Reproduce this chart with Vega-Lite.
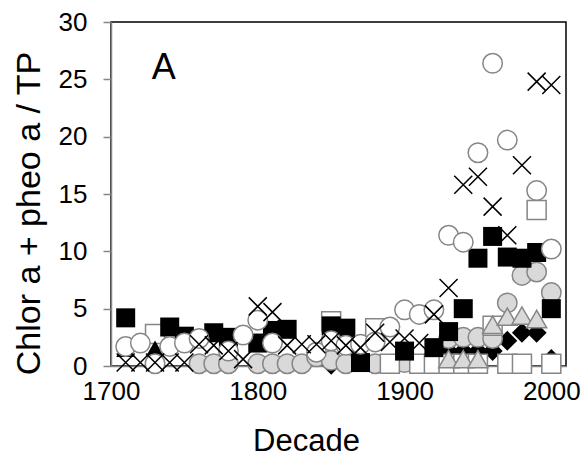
{
  "$schema": "https://vega.github.io/schema/vega-lite/v6.json",
  "width": 455,
  "height": 344,
  "autosize": {"type": "none"},
  "padding": {"left": 111, "top": 22, "right": 21, "bottom": 98},
  "background": "white",
  "config": {
    "font": "Liberation Sans",
    "view": {"stroke": "black", "strokeWidth": 1.5},
    "axis": {"grid": false, "labelColor": "black", "titleColor": "black", "titleFontWeight": "normal", "domainColor": "#868686", "domainWidth": 1.5, "tickColor": "#868686", "tickWidth": 1.5, "labelFont": "Liberation Sans", "titleFont": "Liberation Sans"}
  },
  "datasets": {
    "blackSquare": [
      {"decade": 1710, "value": 4.2}, {"decade": 1740, "value": 3.4}, {"decade": 1750, "value": 2.6},
      {"decade": 1770, "value": 2.9}, {"decade": 1780, "value": 2.5}, {"decade": 1800, "value": 2.0},
      {"decade": 1810, "value": 3.1}, {"decade": 1820, "value": 3.2}, {"decade": 1850, "value": 3.5},
      {"decade": 1860, "value": 3.3}, {"decade": 1870, "value": 0.3}, {"decade": 1900, "value": 1.3},
      {"decade": 1920, "value": 1.6}, {"decade": 1930, "value": 3.0}, {"decade": 1940, "value": 5.0},
      {"decade": 1950, "value": 9.4}, {"decade": 1960, "value": 11.3}, {"decade": 1970, "value": 9.5},
      {"decade": 1980, "value": 9.4}, {"decade": 1990, "value": 9.9}, {"decade": 2000, "value": 5.0}
    ],
    "openCircle": [
      {"decade": 1710, "value": 1.7}, {"decade": 1720, "value": 2.0}, {"decade": 1730, "value": 0.2},
      {"decade": 1740, "value": 1.7}, {"decade": 1750, "value": 2.0}, {"decade": 1760, "value": 2.4},
      {"decade": 1780, "value": 1.3}, {"decade": 1790, "value": 2.7}, {"decade": 1800, "value": 4.0},
      {"decade": 1810, "value": 2.0}, {"decade": 1840, "value": 1.2}, {"decade": 1850, "value": 2.2},
      {"decade": 1860, "value": 1.8}, {"decade": 1870, "value": 1.9}, {"decade": 1880, "value": 2.1},
      {"decade": 1890, "value": 3.4}, {"decade": 1900, "value": 4.9}, {"decade": 1910, "value": 4.5},
      {"decade": 1920, "value": 4.9}, {"decade": 1930, "value": 11.4}, {"decade": 1940, "value": 10.8},
      {"decade": 1950, "value": 18.6}, {"decade": 1960, "value": 26.4}, {"decade": 1970, "value": 19.7},
      {"decade": 1990, "value": 15.3}, {"decade": 2000, "value": 10.2}
    ],
    "xMark": [
      {"decade": 1710, "value": 0.3}, {"decade": 1720, "value": 0.3}, {"decade": 1730, "value": 0.3},
      {"decade": 1740, "value": 0.3}, {"decade": 1750, "value": 0.3}, {"decade": 1760, "value": 1.9},
      {"decade": 1770, "value": 1.8}, {"decade": 1780, "value": 1.3}, {"decade": 1790, "value": 0.6},
      {"decade": 1800, "value": 5.2}, {"decade": 1810, "value": 4.7}, {"decade": 1820, "value": 1.8},
      {"decade": 1830, "value": 1.9}, {"decade": 1840, "value": 1.9}, {"decade": 1850, "value": 2.2},
      {"decade": 1860, "value": 1.8}, {"decade": 1870, "value": 1.6}, {"decade": 1880, "value": 2.9},
      {"decade": 1890, "value": 2.1}, {"decade": 1900, "value": 2.4}, {"decade": 1910, "value": 2.0},
      {"decade": 1920, "value": 4.5}, {"decade": 1930, "value": 6.8}, {"decade": 1940, "value": 15.8},
      {"decade": 1950, "value": 16.5}, {"decade": 1960, "value": 13.9}, {"decade": 1970, "value": 11.4},
      {"decade": 1980, "value": 17.5}, {"decade": 1990, "value": 24.8}, {"decade": 2000, "value": 24.5}
    ],
    "greyCircle": [
      {"decade": 1760, "value": 0.2}, {"decade": 1770, "value": 0.2}, {"decade": 1780, "value": 0.2},
      {"decade": 1800, "value": 0.2}, {"decade": 1810, "value": 0.2}, {"decade": 1820, "value": 0.2},
      {"decade": 1830, "value": 0.2}, {"decade": 1840, "value": 0.8}, {"decade": 1850, "value": 0.5},
      {"decade": 1860, "value": 0.2}, {"decade": 1880, "value": 0.2}, {"decade": 1900, "value": 0.3},
      {"decade": 1920, "value": 0.3}, {"decade": 1930, "value": 2.4}, {"decade": 1940, "value": 2.5},
      {"decade": 1950, "value": 2.5}, {"decade": 1960, "value": 2.4}, {"decade": 1970, "value": 5.5},
      {"decade": 1980, "value": 7.9}, {"decade": 1990, "value": 8.2}, {"decade": 2000, "value": 6.4}
    ],
    "openSquare": [
      {"decade": 1730, "value": 2.8}, {"decade": 1850, "value": 3.9}, {"decade": 1880, "value": 3.3},
      {"decade": 1890, "value": 0.2}, {"decade": 1910, "value": 0.2}, {"decade": 1920, "value": 0.2},
      {"decade": 1930, "value": 0.2}, {"decade": 1940, "value": 0.2}, {"decade": 1950, "value": 0.2},
      {"decade": 1960, "value": 3.5}, {"decade": 1970, "value": 0.2}, {"decade": 1980, "value": 0.2},
      {"decade": 1990, "value": 13.6}, {"decade": 2000, "value": 0.2}
    ],
    "greyTriangle": [
      {"decade": 1930, "value": 0.6}, {"decade": 1940, "value": 0.6}, {"decade": 1950, "value": 0.6},
      {"decade": 1960, "value": 3.6}, {"decade": 1970, "value": 4.3}, {"decade": 1980, "value": 4.4},
      {"decade": 1990, "value": 4.1}
    ],
    "blackDiamond": [
      {"decade": 1850, "value": 0.1}, {"decade": 1930, "value": 1.3}, {"decade": 1940, "value": 1.3},
      {"decade": 1950, "value": 1.3}, {"decade": 1960, "value": 1.3}, {"decade": 1970, "value": 2.2},
      {"decade": 1980, "value": 2.9}, {"decade": 1990, "value": 2.9}, {"decade": 2000, "value": 0.6}
    ],
    "blackTriangle": [
      {"decade": 1710, "value": 1.5}, {"decade": 1730, "value": 1.5}
    ],
    "panel": [
      {"decade": 1736, "value": 26, "label": "A"}
    ]
  },
  "encoding": {
    "x": {
      "field": "decade", "type": "quantitative",
      "scale": {"domain": [1700, 2010], "nice": false, "zero": false},
      "axis": {"values": [1700, 1800, 1900, 2000], "format": "d", "labelFontSize": 26, "labelPadding": 12, "ticks": false, "labelFlush": false, "title": "Decade", "titleFontSize": 31, "titleX": 195, "titleY": 84, "titleBaseline": "alphabetic", "titleAlign": "center"}
    },
    "y": {
      "field": "value", "type": "quantitative",
      "scale": {"domain": [0, 30], "nice": false},
      "axis": {"values": [0, 5, 10, 15, 20, 25, 30], "labelFontSize": 26, "tickSize": 8, "labelPadding": 16, "title": "Chlor a + pheo a / TP", "titleFontSize": 34, "titleX": -82, "titleY": 191, "titleAngle": 270, "titleAlign": "center", "titleBaseline": "middle"}
    }
  },
  "layer": [
    {"data": {"name": "blackDiamond"}, "mark": {"type": "point", "shape": "diamond", "filled": true, "color": "black", "size": 400, "opacity": 1}},
    {"data": {"name": "greyCircle"}, "mark": {"type": "point", "shape": "circle", "filled": true, "fill": "#d9d9d9", "stroke": "#868686", "strokeWidth": 1.5, "size": 380, "opacity": 1}},
    {"data": {"name": "openSquare"}, "mark": {"type": "point", "shape": "square", "filled": true, "fill": "white", "stroke": "#868686", "strokeWidth": 1.5, "size": 361, "opacity": 1}},
    {"data": {"name": "greyTriangle"}, "mark": {"type": "point", "shape": "triangle-up", "filled": true, "fill": "#d9d9d9", "stroke": "#868686", "strokeWidth": 1.5, "size": 400, "opacity": 1}},
    {"data": {"name": "blackTriangle"}, "mark": {"type": "point", "shape": "triangle-up", "filled": true, "color": "black", "size": 361, "opacity": 1}},
    {"data": {"name": "blackSquare"}, "mark": {"type": "point", "shape": "square", "filled": true, "color": "black", "size": 361, "opacity": 1}},
    {"data": {"name": "openCircle"}, "mark": {"type": "point", "shape": "circle", "filled": true, "fill": "white", "stroke": "#868686", "strokeWidth": 1.5, "size": 380, "opacity": 1}},
    {"data": {"name": "xMark"}, "mark": {"type": "point", "shape": "M-1,-1L1,1M1,-1L-1,1", "filled": false, "stroke": "black", "strokeWidth": 1.5, "size": 324, "opacity": 1}},
    {"data": {"name": "panel"}, "mark": {"type": "text", "fontSize": 36, "color": "black", "align": "center", "baseline": "middle"}, "encoding": {"text": {"field": "label"}}}
  ]
}
